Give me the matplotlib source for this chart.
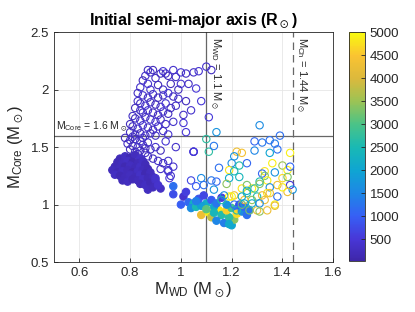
import matplotlib
matplotlib.use("Agg")
import matplotlib.pyplot as plt
from matplotlib.colors import LinearSegmentedColormap, Normalize

plt.rcParams['font.family'] = ['Liberation Sans', 'DejaVu Sans']
plt.rcParams['mathtext.fontset'] = 'custom'
plt.rcParams['mathtext.rm'] = 'Liberation Sans'
plt.rcParams['mathtext.default'] = 'regular'

# open circles, low separation cloud (M_WD, M_Core, a)
open_cloud = [
    (0.87, 2.17, 300), (0.88, 2.15, 420), (0.89, 2.17, 250), (0.86, 2.12, 380), (0.85, 2.08, 200),
    (0.87, 2.05, 450), (0.90, 2.10, 330), (0.92, 2.14, 280), (0.93, 2.16, 510), (0.94, 2.14, 360),
    (0.95, 2.12, 240), (0.97, 2.17, 400), (0.98, 2.11, 310), (1.00, 2.15, 470), (1.02, 2.14, 290),
    (1.05, 2.15, 350), (1.07, 2.16, 420), (1.10, 2.20, 380), (1.12, 2.17, 300), (0.96, 2.05, 260),
    (1.00, 2.05, 440), (1.03, 2.05, 320), (1.06, 2.01, 500), (0.91, 2.04, 230), (0.84, 2.02, 390),
    (0.93, 2.00, 340), (0.99, 2.00, 270), (0.88, 2.00, 410),
    (0.83, 1.97, 310), (0.85, 1.95, 450), (0.87, 1.93, 270), (0.89, 1.96, 380), (0.91, 1.93, 220),
    (0.93, 1.95, 340), (0.95, 1.97, 490), (0.97, 1.94, 300), (0.99, 1.92, 410), (1.02, 1.90, 260),
    (1.08, 1.90, 520), (0.83, 1.90, 350), (0.84, 1.88, 280), (0.86, 1.86, 430), (0.88, 1.89, 310),
    (0.90, 1.87, 240), (0.92, 1.85, 370), (0.94, 1.88, 460), (0.96, 1.84, 290), (0.98, 1.86, 330),
    (1.04, 1.82, 400), (0.82, 1.84, 260), (0.84, 1.82, 380), (0.85, 1.80, 300), (0.87, 1.82, 470),
    (0.89, 1.80, 220), (0.91, 1.78, 350), (0.93, 1.81, 410), (0.95, 1.79, 280), (1.01, 1.78, 360),
    (1.11, 1.76, 540),
    (0.81, 1.77, 330), (0.82, 1.75, 250), (0.84, 1.73, 410), (0.86, 1.76, 300), (0.88, 1.74, 370),
    (0.90, 1.72, 450), (0.92, 1.74, 280), (0.94, 1.70, 340), (0.97, 1.72, 390), (1.01, 1.71, 480),
    (0.80, 1.70, 230), (0.81, 1.68, 360), (0.83, 1.66, 290), (0.85, 1.69, 420), (0.87, 1.67, 310),
    (0.89, 1.65, 260), (0.91, 1.68, 380), (0.93, 1.64, 330), (1.02, 1.63, 500), (0.80, 1.63, 270),
    (0.82, 1.61, 350), (0.84, 1.62, 240), (0.86, 1.60, 400), (0.88, 1.62, 300), (0.90, 1.60, 370),
    (0.95, 1.61, 440),
    (0.78, 1.58, 280), (0.80, 1.56, 350), (0.82, 1.57, 220), (0.84, 1.55, 400), (0.79, 1.53, 310),
    (0.81, 1.51, 260), (0.83, 1.50, 380), (0.85, 1.52, 290), (0.87, 1.54, 430), (0.80, 1.48, 240),
    (0.82, 1.46, 330), (0.84, 1.47, 270), (0.86, 1.45, 360), (0.88, 1.48, 300), (0.90, 1.50, 410),
    (0.92, 1.47, 250), (0.94, 1.55, 470), (0.98, 1.50, 390), (1.05, 1.46, 560), (0.87, 1.42, 320),
    (0.89, 1.40, 280), (0.91, 1.38, 370), (0.93, 1.36, 300), (0.95, 1.38, 420), (0.92, 1.31, 350),
    (0.95, 1.30, 440), (0.96, 1.25, 380), (0.97, 1.33, 400), (0.83, 1.44, 300), (0.85, 1.58, 330),
    (0.86, 1.49, 260), (0.81, 1.59, 310),
]

# filled circles, dark cluster
filled_cluster = [
    (0.76, 1.40, 200), (0.78, 1.42, 300), (0.80, 1.41, 150), (0.82, 1.43, 250), (0.84, 1.40, 350),
    (0.75, 1.37, 180), (0.77, 1.36, 260), (0.79, 1.38, 320), (0.81, 1.37, 140), (0.83, 1.36, 220),
    (0.85, 1.38, 300), (0.74, 1.33, 170), (0.76, 1.32, 240), (0.78, 1.33, 130), (0.80, 1.34, 280),
    (0.82, 1.32, 200), (0.84, 1.33, 310), (0.86, 1.35, 190), (0.73, 1.30, 230), (0.75, 1.28, 160),
    (0.77, 1.29, 270), (0.79, 1.30, 210), (0.81, 1.28, 120), (0.83, 1.29, 290), (0.85, 1.30, 240),
    (0.87, 1.31, 180), (0.74, 1.26, 300), (0.76, 1.25, 150), (0.78, 1.24, 220), (0.80, 1.26, 260),
    (0.82, 1.24, 190), (0.84, 1.26, 330), (0.86, 1.27, 140), (0.88, 1.28, 250), (0.77, 1.21, 200),
    (0.79, 1.20, 280), (0.81, 1.22, 170), (0.83, 1.21, 230), (0.85, 1.22, 310), (0.87, 1.23, 200),
    (0.89, 1.24, 260), (0.84, 1.18, 220), (0.86, 1.17, 300), (0.88, 1.19, 180), (0.90, 1.21, 350),
    (0.87, 1.13, 270), (0.89, 1.15, 240), (0.92, 1.14, 320), (0.91, 1.17, 400), (0.90, 1.23, 380),
]

# filled circles, mixed colours near M_WD ~ 1.1
filled_mixed = [
    (0.97, 1.16, 1200), (0.97, 1.09, 800), (1.00, 1.00, 1000), (1.01, 1.07, 400), (1.03, 1.02, 1100),
    (1.05, 1.01, 2300), (1.08, 0.91, 4300), (1.11, 0.93, 4900), (1.10, 1.01, 2200), (1.12, 1.04, 1000),
    (1.15, 0.95, 4800), (1.16, 0.91, 2600), (1.17, 0.84, 1400), (1.20, 0.82, 2000), (1.21, 0.87, 3400),
    (1.19, 0.89, 2700), (1.04, 0.97, 1600), (1.06, 0.98, 2500), (1.08, 0.99, 1900), (1.07, 1.05, 900),
    (1.09, 1.08, 700), (1.13, 0.98, 2100), (1.14, 1.01, 1300), (1.18, 0.95, 4600), (1.20, 0.97, 2900),
    (1.22, 0.96, 1200), (1.18, 1.00, 1700), (1.22, 0.92, 4700), (1.24, 0.94, 1600), (1.12, 0.89, 3800),
    (1.14, 0.86, 1500), (1.19, 0.83, 2100), (1.23, 1.00, 800), (1.16, 1.06, 600), (1.25, 0.98, 1100),
    (1.27, 0.95, 1300), (1.02, 1.11, 600), (1.10, 0.96, 3100), (1.13, 0.93, 2400), (1.06, 1.03, 1400),
    (1.26, 0.91, 1200),
]

# open circles, mixed colours
open_mixed = [
    (1.31, 1.69, 1600), (1.14, 1.63, 1700), (1.10, 1.57, 2700), (1.11, 1.46, 2700), (1.13, 1.51, 1300),
    (1.05, 1.46, 550), (1.39, 1.60, 1200), (1.29, 1.55, 1100), (1.32, 1.54, 1300), (1.35, 1.56, 1200),
    (1.37, 1.53, 1400), (1.38, 1.48, 1200), (1.35, 1.45, 2000), (1.29, 1.47, 1500), (1.43, 1.45, 4900),
    (1.22, 1.46, 4300), (1.24, 1.45, 4400), (1.21, 1.42, 1700), (1.20, 1.36, 1600), (1.26, 1.36, 1100),
    (1.23, 1.34, 2600), (1.19, 1.30, 4800), (1.15, 1.32, 1200), (1.21, 1.29, 2500), (1.23, 1.24, 2400),
    (1.19, 1.23, 2100), (1.18, 1.18, 3400), (1.14, 1.20, 1100), (1.12, 1.21, 1300), (1.08, 1.23, 1600),
    (1.04, 1.21, 700), (1.06, 1.16, 1000), (1.13, 1.13, 1700), (1.09, 1.17, 1200), (1.36, 1.36, 4900),
    (1.40, 1.34, 3500), (1.42, 1.30, 4900), (1.43, 1.33, 1100), (1.37, 1.28, 1700), (1.33, 1.29, 4800),
    (1.32, 1.27, 1100), (1.33, 1.25, 3300), (1.34, 1.21, 4900), (1.31, 1.20, 2600), (1.40, 1.23, 4700),
    (1.42, 1.24, 3300), (1.43, 1.17, 500), (1.44, 1.13, 1700), (1.42, 1.11, 4300), (1.40, 1.15, 4900),
    (1.38, 1.17, 4300), (1.35, 1.15, 1600), (1.34, 1.10, 4800), (1.38, 1.07, 1200), (1.37, 1.00, 4900),
    (1.33, 1.04, 4300), (1.30, 1.07, 2600), (1.28, 1.14, 4900), (1.26, 1.10, 2700), (1.28, 1.04, 3400),
    (1.30, 0.95, 4300), (1.27, 0.95, 3300), (1.25, 1.04, 4300), (1.24, 1.14, 4800), (1.26, 1.17, 3300),
    (1.21, 1.08, 4300), (1.19, 1.07, 4900), (1.16, 1.04, 2600), (1.24, 1.00, 3400), (1.22, 0.95, 2600),
    (1.28, 1.01, 2100), (1.31, 1.01, 1600), (1.17, 1.08, 1600), (1.20, 1.07, 4900), (1.24, 1.07, 2100),
    (1.26, 1.12, 2200), (1.29, 1.14, 2700), (1.31, 1.18, 3400), (1.32, 1.08, 4300), (1.35, 1.10, 4300),
    (1.21, 1.00, 1200), (1.25, 1.01, 2100), (1.31, 0.94, 3400), (1.34, 0.95, 4300), (1.37, 0.99, 4200),
    (1.05, 1.46, 500), (0.95, 1.29, 450), (0.955, 1.23, 500),
]

# parula-like colormap (older MATLAB default)
parula = LinearSegmentedColormap.from_list('parula', [
    (0.000, (62/255, 38/255, 168/255)),
    (0.095, (72/255, 55/255, 215/255)),
    (0.195, (55/255, 95/255, 245/255)),
    (0.296, (30/255, 135/255, 230/255)),
    (0.396, (15/255, 165/255, 210/255)),
    (0.497, (25/255, 185/255, 180/255)),
    (0.598, (75/255, 195/255, 135/255)),
    (0.698, (155/255, 195/255, 85/255)),
    (0.799, (220/255, 185/255, 60/255)),
    (0.899, (250/255, 195/255, 50/255)),
    (1.000, (249/255, 251/255, 14/255)),
])
norm = Normalize(vmin=30, vmax=5000)

fig = plt.figure(figsize=(4.15, 3.12), dpi=100)
ax = fig.add_axes([0.130, 0.160, 0.673, 0.737])
cax = fig.add_axes([0.842, 0.163, 0.037, 0.734])


def unpack(rows):
    return [r[0] for r in rows], [r[1] for r in rows], [r[2] for r in rows]


for rows, filled in [(open_cloud, False), (filled_cluster, True),
                     (filled_mixed, True), (open_mixed, False)]:
    x, y, c = unpack(rows)
    cols = parula(norm(c))
    if filled:
        ax.scatter(x, y, s=28, c=cols, edgecolors=cols, linewidths=0.8, zorder=3)
    else:
        ax.scatter(x, y, s=28, facecolors='none', edgecolors=cols, linewidths=0.8, zorder=3)

ax.axvline(1.1, color='0.4', lw=0.9, zorder=2)
ax.axvline(1.44, color='0.4', lw=0.9, ls=(0, (6, 4)), zorder=2)
ax.axhline(1.6, color='0.4', lw=0.9, zorder=2)

ax.text(0.51, 1.615, r'M$_{Core}$ = 1.6 M$_\odot$', fontsize=7.5, ha='left', va='bottom',
        color='0.15', zorder=6)
ax.text(1.105, 2.46, r'M$_{WD}$ = 1.1 M$_\odot$', fontsize=8, rotation=-90,
        ha='left', va='top', color='0.15', zorder=6)
ax.text(1.445, 2.46, r'M$_{Ch}$ = 1.44 M$_\odot$', fontsize=8, rotation=-90,
        ha='left', va='top', color='0.15', zorder=6)

ax.set_xlim(0.5, 1.6)
ax.set_ylim(0.5, 2.5)
ax.set_xticks([0.6, 0.8, 1.0, 1.2, 1.4, 1.6])
ax.set_xticklabels(['0.6', '0.8', '1', '1.2', '1.4', '1.6'])
ax.set_yticks([0.5, 1.0, 1.5, 2.0, 2.5])
ax.set_yticklabels(['0.5', '1', '1.5', '2', '2.5'])
ax.grid(True, color='0.9', lw=0.6, zorder=0)
ax.set_axisbelow(True)
ax.tick_params(direction='in', length=3, labelsize=9.5, colors='0.15', width=0.6)
for sp in ax.spines.values():
    sp.set_color('0.15')
    sp.set_linewidth(0.6)

ax.set_xlabel(r'M$_{WD}$ (M$_\odot$)', fontsize=12, color='0.15', labelpad=1)
ax.set_ylabel(r'M$_{Core}$ (M$_\odot$)', fontsize=12, color='0.15', labelpad=3)
ax.set_title(r'Initial semi-major axis (R$_\odot$)', fontsize=11.5, fontweight='bold', pad=5)

sm = plt.cm.ScalarMappable(cmap=parula, norm=norm)
cb = fig.colorbar(sm, cax=cax)
cb.set_ticks([500, 1000, 1500, 2000, 2500, 3000, 3500, 4000, 4500, 5000])
cb.ax.tick_params(direction='in', length=3, labelsize=9.5, colors='0.15', width=0.6)
cb.outline.set_edgecolor('0.15')
cb.outline.set_linewidth(0.6)

fig.savefig('out.png', dpi=100)
